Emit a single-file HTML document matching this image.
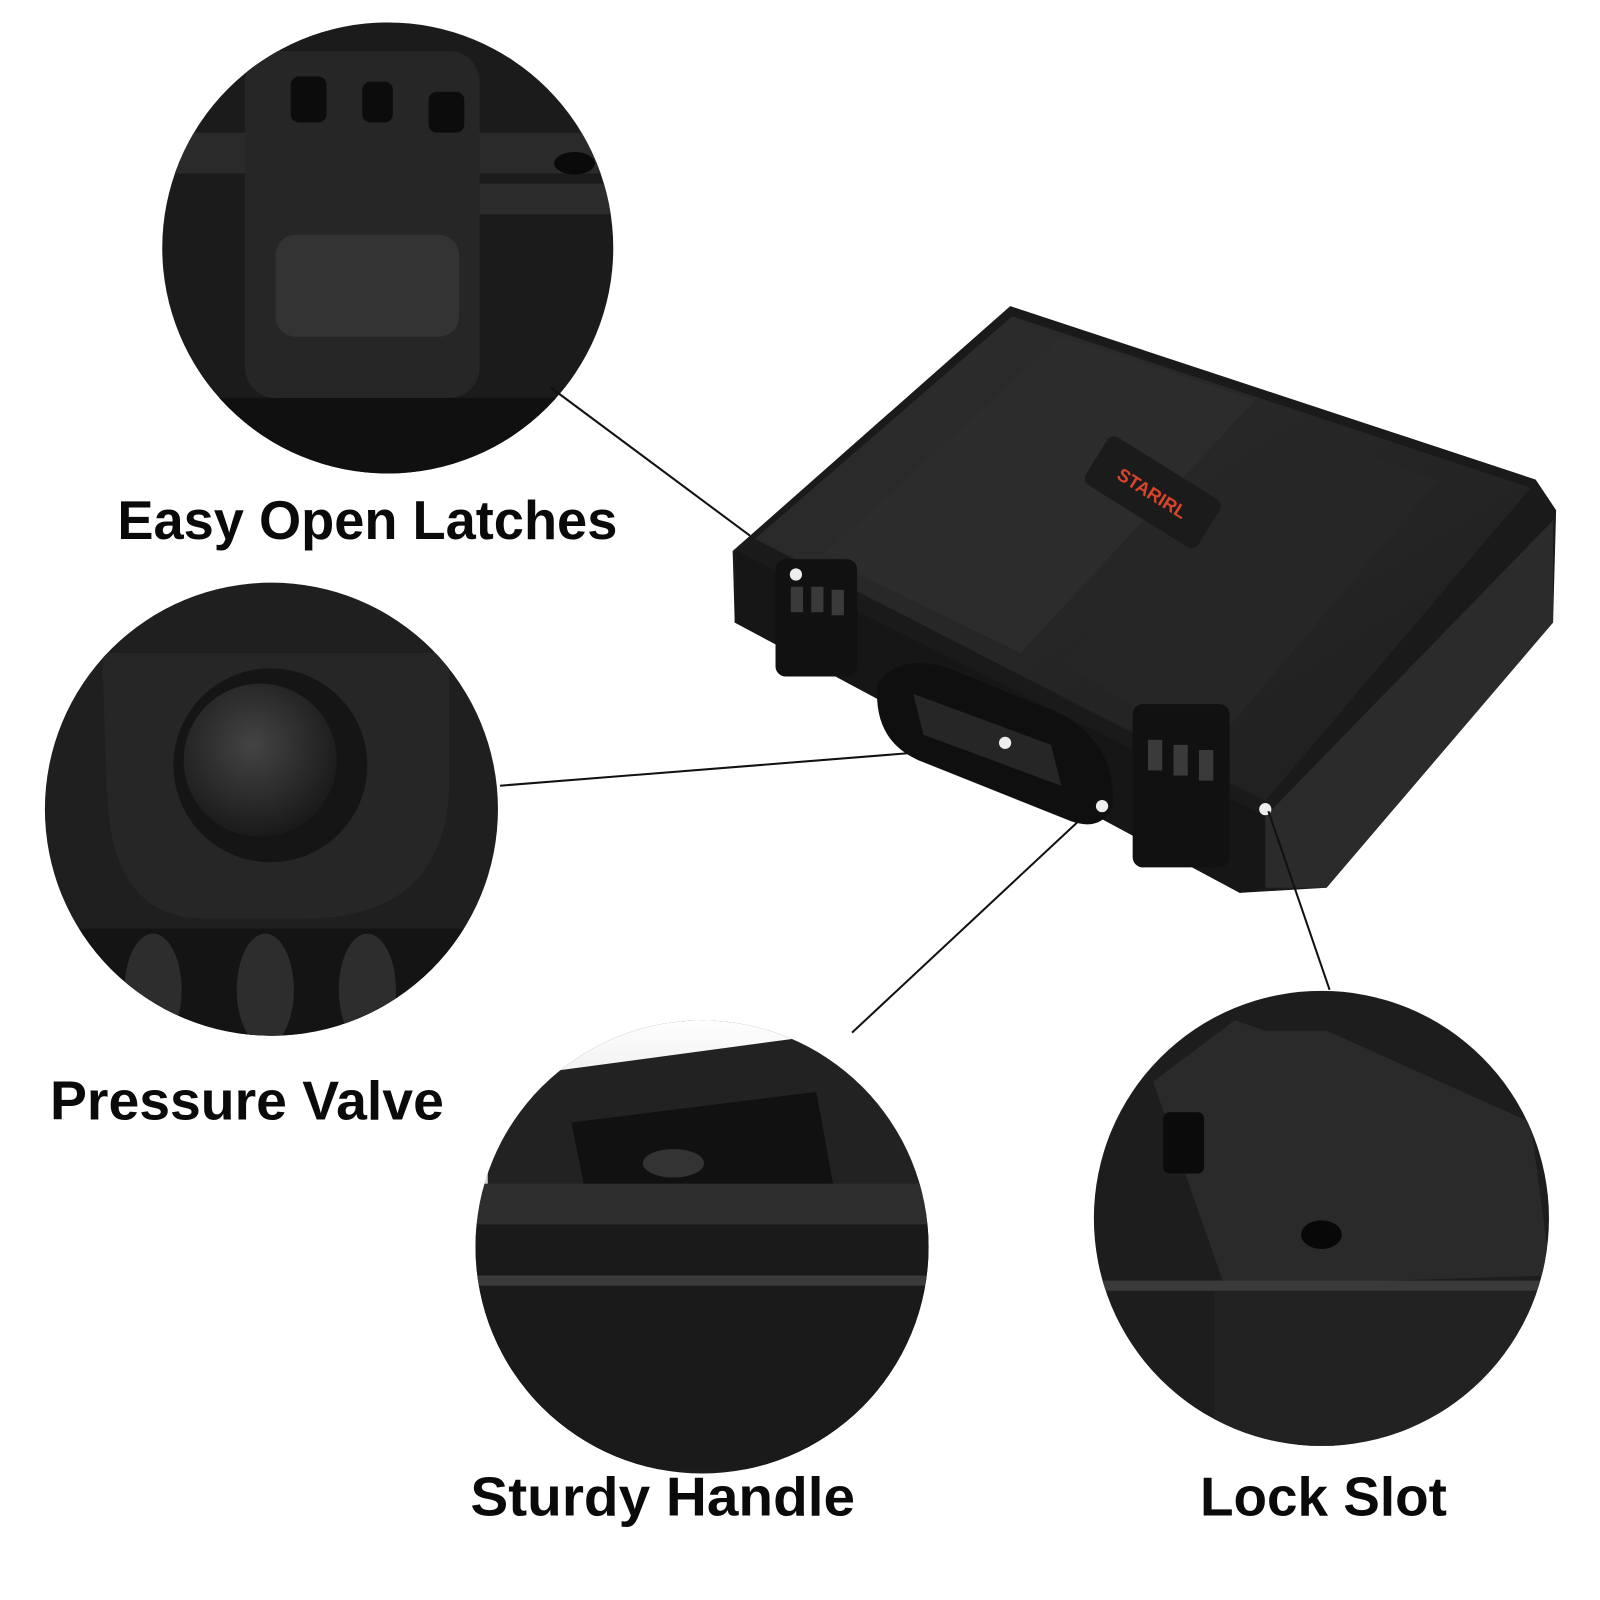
<!DOCTYPE html>
<html><head><meta charset="utf-8"><style>
html,body{margin:0;padding:0;background:#fff;}
svg{display:block;}
text{font-family:"Liberation Sans",sans-serif;font-weight:bold;fill:#0a0a0a;}
</style></head><body>
<svg width="1600" height="1600" viewBox="0 0 1568 1568" xmlns="http://www.w3.org/2000/svg">
<defs>
<radialGradient id="g2" cx="45%" cy="40%" r="60%"><stop offset="0" stop-color="#444"/><stop offset="1" stop-color="#1a1a1a"/></radialGradient>
<linearGradient id="lid" x1="0" y1="0" x2="1" y2="1"><stop offset="0" stop-color="#2e2e2e"/><stop offset="1" stop-color="#1e1e1e"/></linearGradient>
<linearGradient id="sky" x1="0" y1="0" x2="0" y2="1"><stop offset="0" stop-color="#ffffff"/><stop offset="1" stop-color="#d8d8d8"/></linearGradient>
<clipPath id="c1"><circle cx="380" cy="243" r="221"/></clipPath>
<clipPath id="c2"><circle cx="266" cy="793" r="222"/></clipPath>
<clipPath id="c3"><circle cx="688" cy="1222" r="222"/></clipPath>
<clipPath id="c4"><circle cx="1295" cy="1194" r="223"/></clipPath>
</defs>

<circle cx="380" cy="243" r="221" fill="#1b1b1b"/>
<g clip-path="url(#c1)">
<rect x="150" y="130" width="470" height="40" fill="#2a2a2a"/>
<rect x="240" y="50" width="230" height="340" rx="30" fill="#262626"/>
<rect x="285" y="75" width="35" height="45" rx="8" fill="#0c0c0c"/>
<rect x="355" y="80" width="30" height="40" rx="8" fill="#0c0c0c"/>
<rect x="420" y="90" width="35" height="40" rx="8" fill="#0c0c0c"/>
<rect x="270" y="230" width="180" height="100" rx="20" fill="#333"/>
<rect x="470" y="180" width="150" height="30" fill="#2c2c2c"/>
<ellipse cx="563" cy="160" rx="20" ry="11" fill="#0a0a0a"/>
<rect x="150" y="390" width="470" height="80" fill="#101010"/>
</g>

<circle cx="266" cy="793" r="222" fill="#1f1f1f"/>
<g clip-path="url(#c2)">
<path d="M100 640 L440 640 L440 780 Q430 900 300 900 L200 900 Q110 900 105 780 Z" fill="#262626"/>
<circle cx="265" cy="750" r="95" fill="#151515"/>
<circle cx="255" cy="745" r="75" fill="url(#g2)"/>
<rect x="40" y="910" width="460" height="120" fill="#141414"/>
<ellipse cx="150" cy="970" rx="28" ry="55" fill="#2d2d2d"/>
<ellipse cx="260" cy="970" rx="28" ry="55" fill="#2d2d2d"/>
<ellipse cx="360" cy="970" rx="28" ry="55" fill="#2d2d2d"/>
</g>

<circle cx="688" cy="1222" r="222" fill="#1c1c1c"/>
<g clip-path="url(#c3)">
<rect x="460" y="995" width="460" height="170" fill="url(#sky)"/>
<path d="M478 1165 L478 1110 Q480 1060 540 1050 L800 1015 Q870 1015 880 1070 L920 1100 L920 1165 Z" fill="#222"/>
<path d="M560 1100 L800 1070 L820 1180 L580 1200 Z" fill="#111"/>
<ellipse cx="660" cy="1140" rx="30" ry="14" fill="#333"/>
<rect x="460" y="1160" width="460" height="40" fill="#2e2e2e"/>
<rect x="460" y="1200" width="460" height="240" fill="#1a1a1a"/>
<rect x="460" y="1250" width="460" height="10" fill="#3a3a3a"/>
</g>

<circle cx="1295" cy="1194" r="223" fill="#1d1d1d"/>
<g clip-path="url(#c4)">
<path d="M1130 1060 L1210 1000 L1240 1010 L1300 1010 L1500 1100 L1520 1250 L1200 1260 Z" fill="#2a2a2a"/>
<rect x="1140" y="1090" width="40" height="60" rx="6" fill="#0b0b0b"/>
<ellipse cx="1295" cy="1210" rx="20" ry="14" fill="#080808"/>
<rect x="1070" y="1255" width="460" height="10" fill="#3a3a3a"/>
<rect x="1190" y="1265" width="340" height="160" fill="#222"/>
</g>

<polygon points="718,540 990,300 1505,470 1525,500 1522,610 1300,870 1215,875 720,610" fill="#1a1a1a"/>
<polygon points="722,540 1240,800 1240,870 1215,875 720,610" fill="#161616"/>
<polygon points="1240,800 1522,510 1522,610 1300,870 1240,870" fill="#2b2b2b"/>
<polygon points="740,528 992,310 1500,478 1240,785" fill="url(#lid)"/>
<polygon points="805,545 1040,330 1230,392 1000,640" fill="#2c2c2c"/>
<polygon points="1040,650 1260,420 1410,470 1185,735" fill="#262626"/>
<rect x="1065" y="455" width="130" height="55" rx="8" fill="#1b1b1b" transform="rotate(32 1130 482)"/>
<text x="1130" y="490" font-size="18" style="fill:#d9452b" text-anchor="middle" transform="rotate(32 1130 482)">STARIRL</text>
<rect x="760" y="548" width="80" height="115" rx="10" fill="#111"/>
<rect x="1110" y="690" width="95" height="160" rx="10" fill="#111"/>
<rect x="775" y="575" width="12" height="25" fill="#3a3a3a"/><rect x="795" y="575" width="12" height="25" fill="#3a3a3a"/><rect x="815" y="578" width="12" height="25" fill="#3a3a3a"/>
<rect x="1125" y="725" width="14" height="30" fill="#3a3a3a"/><rect x="1150" y="730" width="14" height="30" fill="#3a3a3a"/><rect x="1175" y="735" width="14" height="30" fill="#3a3a3a"/>
<path d="M860 670 Q880 640 930 655 L1040 700 Q1095 730 1090 790 Q1080 815 1050 805 L900 745 Q855 725 860 670 Z" fill="#0f0f0f"/>
<path d="M895 680 L1030 730 L1040 770 L905 720 Z" fill="#262626"/>
<circle cx="780" cy="563" r="6" fill="#eee"/>
<circle cx="985" cy="728" r="6" fill="#eee"/>
<circle cx="1080" cy="790" r="6" fill="#eee"/>
<circle cx="1240" cy="793" r="6" fill="#eee"/>

<g stroke="#111" stroke-width="2" fill="none">
<line x1="540" y1="380" x2="735" y2="525"/>
<line x1="490" y1="770" x2="905" y2="737"/>
<line x1="835" y1="1012" x2="1062" y2="800"/>
<line x1="1303" y1="970" x2="1243" y2="795"/>
</g>

<text x="115" y="528" font-size="54" textLength="490" lengthAdjust="spacingAndGlyphs">Easy Open Latches</text>
<text x="49" y="1097" font-size="54" textLength="386" lengthAdjust="spacingAndGlyphs">Pressure Valve</text>
<text x="461" y="1485" font-size="54" textLength="377" lengthAdjust="spacingAndGlyphs">Sturdy Handle</text>
<text x="1176" y="1485" font-size="54" textLength="242" lengthAdjust="spacingAndGlyphs">Lock Slot</text>
</svg>
</body></html>
